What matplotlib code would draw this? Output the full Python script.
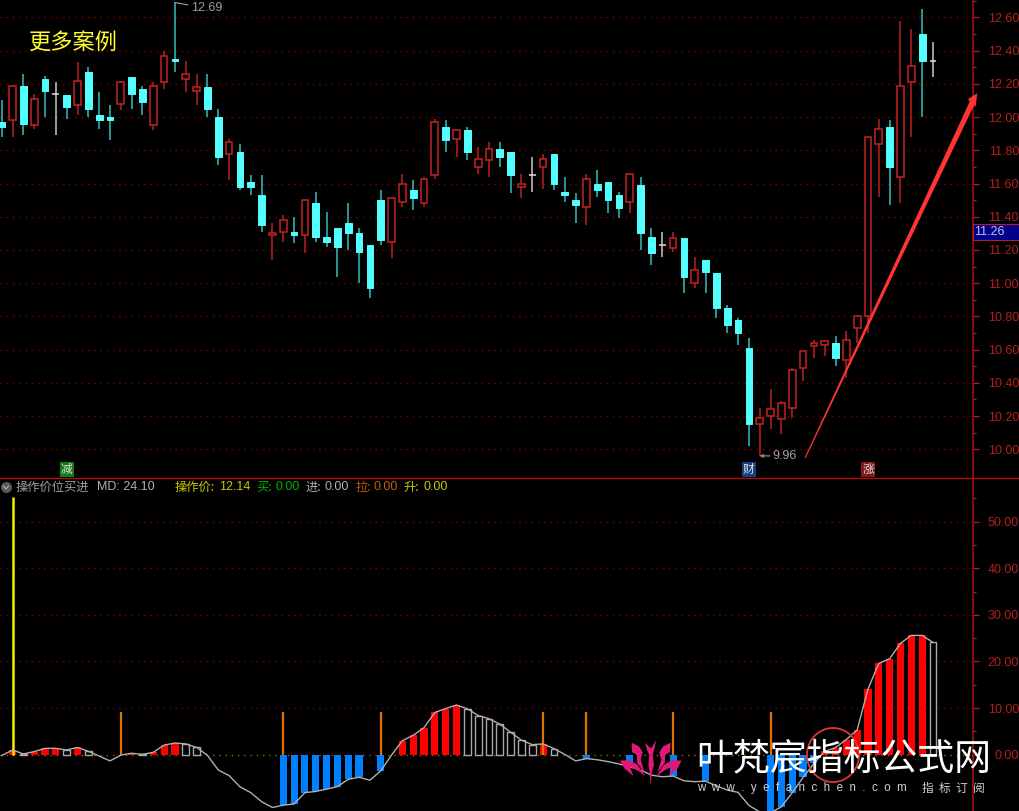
import numpy as np
import matplotlib
matplotlib.use("Agg")
import matplotlib.pyplot as plt
from matplotlib.lines import Line2D
from matplotlib.patches import Polygon, Rectangle
from matplotlib.ticker import FixedLocator, FormatStrFormatter

# K line values, one entry per trading day
opens = [11.97, 11.98, 12.19, 11.95, 12.23, 12.14, 12.13, 12.07, 12.27, 12.01, 12.00, 12.08, 12.24, 12.17, 11.95,
         12.21, 12.35, 12.23, 12.16, 12.18, 12.00, 11.78, 11.79, 11.61, 11.53, 11.29, 11.31, 11.31, 11.29, 11.48,
         11.28, 11.33, 11.36, 11.30, 11.23, 11.50, 11.25, 11.49, 11.56, 11.48, 11.65, 11.94, 11.87, 11.92, 11.70,
         11.74, 11.81, 11.79, 11.58, 11.65, 11.70, 11.78, 11.55, 11.50, 11.46, 11.60, 11.61, 11.53, 11.49, 11.59,
         11.28, 11.23, 11.21, 11.27, 11.00, 11.14, 11.06, 10.85, 10.78, 10.61, 10.15, 10.20, 10.18, 10.25, 10.49,
         10.62, 10.63, 10.64, 10.54, 10.73, 10.80, 11.84, 11.94, 11.64, 12.21, 12.50, 12.34]
closes = [11.94, 12.19, 11.96, 12.11, 12.16, 12.14, 12.06, 12.22, 12.05, 11.98, 11.98, 12.21, 12.14, 12.09, 12.19,
          12.37, 12.34, 12.26, 12.18, 12.05, 11.76, 11.85, 11.58, 11.58, 11.35, 11.30, 11.38, 11.29, 11.50, 11.28,
          11.25, 11.22, 11.30, 11.19, 10.97, 11.26, 11.51, 11.60, 11.51, 11.63, 11.97, 11.86, 11.92, 11.79, 11.75,
          11.81, 11.76, 11.65, 11.60, 11.65, 11.75, 11.60, 11.53, 11.47, 11.63, 11.56, 11.50, 11.45, 11.66, 11.30,
          11.18, 11.23, 11.27, 11.04, 11.08, 11.07, 10.85, 10.75, 10.70, 10.15, 10.19, 10.24, 10.28, 10.48, 10.59,
          10.64, 10.65, 10.55, 10.66, 10.80, 11.88, 11.93, 11.70, 12.19, 12.31, 12.34, 12.34]
highs = [12.10, 12.19, 12.26, 12.14, 12.25, 12.21, 12.13, 12.33, 12.30, 12.15, 12.07, 12.22, 12.24, 12.19, 12.21,
         12.40, 12.69, 12.34, 12.26, 12.26, 12.05, 11.87, 11.84, 11.65, 11.65, 11.36, 11.41, 11.40, 11.50, 11.55,
         11.43, 11.33, 11.48, 11.33, 11.23, 11.56, 11.51, 11.66, 11.62, 11.64, 11.99, 11.98, 11.92, 11.94, 11.82,
         11.85, 11.85, 11.79, 11.66, 11.76, 11.78, 11.78, 11.64, 11.54, 11.66, 11.68, 11.61, 11.55, 11.66, 11.64,
         11.33, 11.31, 11.31, 11.27, 11.16, 11.14, 11.06, 10.87, 10.79, 10.67, 10.25, 10.36, 10.29, 10.49, 10.59,
         10.66, 10.66, 10.68, 10.71, 10.80, 11.88, 11.99, 11.98, 12.58, 12.53, 12.65, 12.45]
lows = [11.88, 11.88, 11.89, 11.93, 12.00, 11.89, 11.99, 12.01, 12.00, 11.93, 11.86, 12.04, 12.05, 12.01, 11.92,
        12.17, 12.27, 12.15, 12.07, 12.00, 11.71, 11.62, 11.56, 11.53, 11.31, 11.14, 11.25, 11.24, 11.18, 11.25,
        11.22, 11.04, 11.20, 11.00, 10.91, 11.23, 11.15, 11.46, 11.44, 11.46, 11.63, 11.79, 11.76, 11.74, 11.66,
        11.64, 11.70, 11.54, 11.51, 11.55, 11.57, 11.56, 11.49, 11.36, 11.35, 11.52, 11.42, 11.39, 11.42, 11.20,
        11.11, 11.16, 11.19, 10.94, 10.97, 10.94, 10.79, 10.70, 10.63, 10.02, 9.96, 10.12, 10.09, 10.19, 10.41,
        10.55, 10.56, 10.50, 10.43, 10.64, 10.70, 11.52, 11.47, 11.48, 11.88, 12.00, 12.24]

# indicator pane
md = [-0.2, 1.0, 0.15, 0.65, 1.35, 1.35, 1.0, 1.55, 0.7, -0.3, -1.35, -0.1, 0.3, 0.05, 0.5,
      2.05, 2.5, 2.3, 1.55, -0.15, -3.3, -4.5, -6.9, -8.15, -10.1, -11.35, -10.85, -10.6, -8.15, -7.9,
      -7.4, -6.85, -5.3, -4.85, -5.5, -3.5, -0.1, 3.0, 4.15, 5.8, 9.05, 9.9, 10.65, 9.85, 8.4,
      7.7, 6.55, 4.8, 3.1, 2.15, 2.3, 1.3, 0.05, -1.35, -0.85, -1.1, -1.5, -2.0, -2.6, -3.3,
      -4.4, -4.75, -4.6, -5.6, -5.8, -5.7, -6.7, -7.6, -8.1, -10.9, -12.3, -12.5, -11.2, -8.2, -4.9,
      -1.9, 0.7, 1.5, 3.25, 5.3, 14.1, 19.6, 20.6, 23.9, 25.6, 25.6, 24.1]
red_days = [1, 3, 4, 5, 7, 12, 14, 15, 16, 37, 38, 39, 40, 41, 42, 50, 76, 77, 78, 79, 80, 81, 82, 83, 84, 85]
blue_days = [11, 26, 27, 28, 29, 30, 31, 32, 33, 35, 36, 54, 58, 62, 65, 71, 72, 73, 74, 75]
hollow_days = [2, 6, 8, 13, 17, 18, 43, 44, 45, 46, 47, 48, 49, 51, 86]
orange_days = [11, 26, 35, 50, 54, 62, 71]
orange_value = 9.1
yellow_day = 1
yellow_value = 55.3

price_ticks = [10.0, 10.2, 10.4, 10.6, 10.8, 11.0, 11.2, 11.4, 11.6, 11.8, 12.0, 12.2, 12.4, 12.6]
md_ticks = [0, 10, 20, 30, 40, 50]

W, H = 1020, 811
CJK = ["Noto Sans CJK SC", "Liberation Sans"]
AXIS_RED = "#b02020"
GRID_RED = "#800000"


def fx(x):
    return np.asarray(x) / W


def fy(y):
    return 1 - np.asarray(y) / H


def ftext(x, y, s, color, size=9, family="Liberation Sans", **kw):
    fig.text(fx(x), fy(y), s, color=color, fontsize=size, family=family, va="center", **kw)


def fix_axis(ax, ticks, minor):
    ax.set_facecolor("black")
    for side in ["top", "left", "bottom"]:
        ax.spines[side].set_visible(False)
    ax.spines["right"].set_color("#a01010")
    ax.spines["right"].set_linewidth(1.2)
    ax.set_xticks([])
    ax.yaxis.tick_right()
    ax.yaxis.set_major_locator(FixedLocator(ticks))
    ax.yaxis.set_minor_locator(FixedLocator(minor))
    ax.yaxis.set_major_formatter(FormatStrFormatter("%.2f"))
    ax.tick_params(axis="y", which="major", length=4.5, width=0.9, color=AXIS_RED, pad=29,
                   labelcolor=AXIS_RED, labelsize=9)
    ax.tick_params(axis="y", which="minor", length=2.5, width=0.9, color=AXIS_RED)
    for lab in ax.get_yticklabels():
        lab.set_fontfamily("Liberation Sans")
        lab.set_horizontalalignment("right")
    ax.set_xlim(-0.157, 89.65)


plt.rcParams["font.family"] = CJK
fig = plt.figure(figsize=(W / 100, H / 100), dpi=100, facecolor="black")
ax1 = fig.add_axes([0, 1 - 477.5 / H, 972.5 / W, 477.5 / H])
ax2 = fig.add_axes([0, 0, 972.5 / W, (H - 477.5) / H])

# price pane
days = np.arange(len(opens))
o, h, l, c = map(np.array, (opens, highs, lows, closes))
up = c > o
down = c < o
flat = c == o
ax1.set_ylim(9.83, 12.705)
for t in price_ticks:
    ax1.axhline(t, color=GRID_RED, lw=1.0, ls=(0, (1.0, 3.5)), zorder=1)
ax1.vlines(days[up], l[up], h[up], color="#b01c1c", lw=1.2, zorder=2)
ax1.vlines(days[down], l[down], h[down], color="#2fb0b0", lw=1.2, zorder=2)
ax1.vlines(days[flat], l[flat], h[flat], color="#b8b8b8", lw=1.2, zorder=2)
ax1.bar(days[up], (c - o)[up], 0.62, o[up], facecolor="black", edgecolor="#c42222", lw=1.1, zorder=3)
ax1.bar(days[down], (c - o)[down], 0.62, o[down], facecolor="#54ffff", edgecolor="#54ffff", lw=0.7, zorder=3)
ax1.hlines(c[flat], days[flat] - 0.31, days[flat] + 0.31, color="#e0e0e0", lw=1.1, zorder=3)
fix_axis(ax1, price_ticks, [t + 0.1 for t in price_ticks])

ax1.annotate("12.69", xy=(16, highs[16]), xytext=(17.45, 12.655), color="#a0a0a0", fontsize=9,
             family="Liberation Sans", va="center",
             arrowprops=dict(arrowstyle="-", color="#a0a0a0", lw=0.8, shrinkA=0, shrinkB=0))
ax1.annotate("9.96", xy=(70, lows[70]), xytext=(71.2, lows[70]), color="#a0a0a0", fontsize=9,
             family="Liberation Sans", va="center",
             arrowprops=dict(arrowstyle="->", color="#a0a0a0", lw=0.8, shrinkA=0, shrinkB=0, mutation_scale=5))

for day, s, col in [(6, "减", "#127a12"), (69, "财", "#14407e"), (80, "涨", "#7e1a1a")]:
    ax1.text(day, 9.88, s, color="#e0e0e0", fontsize=8.5, ha="center", va="center", zorder=5,
             bbox=dict(boxstyle="square,pad=0.1", facecolor=col, edgecolor="none"))

# latest price box sits above its level on the axis
box_t = ax1.get_yaxis_transform()
ax1.add_patch(Rectangle((1, 11.26), 48 / 972.5, 0.098, transform=box_t, facecolor="#00008c",
                        edgecolor=AXIS_RED, lw=0.8, clip_on=False, zorder=6))
ax1.text(1.002, 11.309, "11.26", transform=box_t, color="#b8c4e8", fontsize=9, family="Liberation Sans",
         va="center", zorder=7)

# indicator pane
ax2.set_ylim(-12.1, 59.5)
for t in md_ticks[1:]:
    ax2.axhline(t, color=GRID_RED, lw=1.0, ls=(0, (1.0, 3.5)), zorder=1)
ax2.axhline(0, color="#a06000", lw=1.0, ls=(0, (1.0, 3.5)), zorder=1)
m = np.array(md)
ax2.bar(red_days, m[red_days], 0.66, color="#ff0000", zorder=2)
ax2.bar(blue_days, m[blue_days], 0.66, color="#0080ff", zorder=2)
ax2.bar(hollow_days, m[hollow_days], 0.62, facecolor="black", edgecolor="#a8a8a8", lw=1.0, zorder=2)
ax2.vlines(orange_days, 0, orange_value, color="#e07000", lw=1.6, zorder=3)
ax2.vlines(yellow_day, 0, yellow_value, color="#f0f000", lw=1.8, zorder=3)
ax2.plot(days, md, color="#b0b0b0", lw=1.0, zorder=4)
fix_axis(ax2, md_ticks, [t + 5 for t in md_ticks[:-1]] + [55])

fig.add_artist(Line2D([0, 1], [fy(477.5), fy(477.5)], color="#b01010", lw=1.0))

# title row of the indicator pane
fig.add_artist(Line2D([fx(6)], [fy(487)], marker="o", ms=8, color="#585858", mec="none"))
fig.add_artist(Line2D(fx([3.5, 6, 8.5]), fy([486, 489, 486]), color="#b0b0b0", lw=0.9))
ftext(16, 487, "操作价位买进", "#a0a0a0", 8.8, CJK)
ftext(97, 487, "MD: 24.10", "#b0b0b0")
for x, s, col in [(175, "操作价:", "#c8c800"), (256, "买:", "#00b000"), (306, "进:", "#b0b0b0"),
                  (355, "拉:", "#c06000"), (404, "升:", "#c8c800")]:
    ftext(x, 487, s, col, 8.8, CJK)
for x, s, col in [(219, "12.14", "#c8c800"), (276, "0.00", "#00b000"), (325, "0.00", "#b0b0b0"),
                  (374, "0.00", "#c06000"), (423, "0.00", "#c8c800")]:
    ftext(x, 487, s, col)

ftext(29, 43, "更多案例", "#ffff30", 16, CJK)

# hand drawn arrow on the screenshot
arrow_px = [(804.5, 458), (805.5, 458.5), (974, 105.3), (975.5, 107), (977.3, 93.3), (968, 99), (969.8, 101.5)]
fig.add_artist(Polygon(np.column_stack((fx([p[0] for p in arrow_px]), fy([p[1] for p in arrow_px]))),
                       closed=True, facecolor="#ff3434", edgecolor="none"))

# watermark
theta = np.linspace(0, 2 * np.pi, 120)
fig.add_artist(Line2D(fx(833 + 26 * np.cos(theta)), fy(755 + 27 * np.sin(theta)), color="#e03535", lw=1.3))
ftext(696, 759, "叶梵宸指标公式网", "white", 26.6, CJK)
ftext(697, 788, "w  w  w  .  y  e  f  a  n  c  h  e  n  .  c  o  m", "#d0d0d0", 8.3)
ftext(922, 788, "指  标  订  阅", "#d0d0d0", 8.5, CJK)

pink = "#e0187a"
lotus = [
    [(30, 122), (58, 120), (82, 134), (108, 170), (84, 152), (60, 140), (70, 168), (44, 146)],
    [(215, 122), (187, 120), (163, 134), (138, 170), (162, 152), (186, 140), (176, 168), (202, 146)],
    [(65, 68), (88, 80), (98, 98), (92, 118), (104, 158), (82, 130), (80, 104), (66, 96)],
    [(182, 68), (158, 80), (148, 98), (154, 118), (142, 158), (164, 130), (166, 104), (180, 96)],
    [(106, 68), (120, 84), (126, 82), (138, 60), (134, 84), (128, 105), (132, 135), (125, 160),
     (122, 200), (119, 160), (115, 135), (118, 105), (110, 88)],
]
for pts in lotus:
    px = np.array(pts, dtype=float)
    fig.add_artist(Polygon(np.column_stack((fx(610 + px[:, 0] / 3), fy(720 + px[:, 1] / 3))), closed=True,
                           facecolor=pink, edgecolor="none"))

fig.savefig("out.png", dpi=100, facecolor="black")
